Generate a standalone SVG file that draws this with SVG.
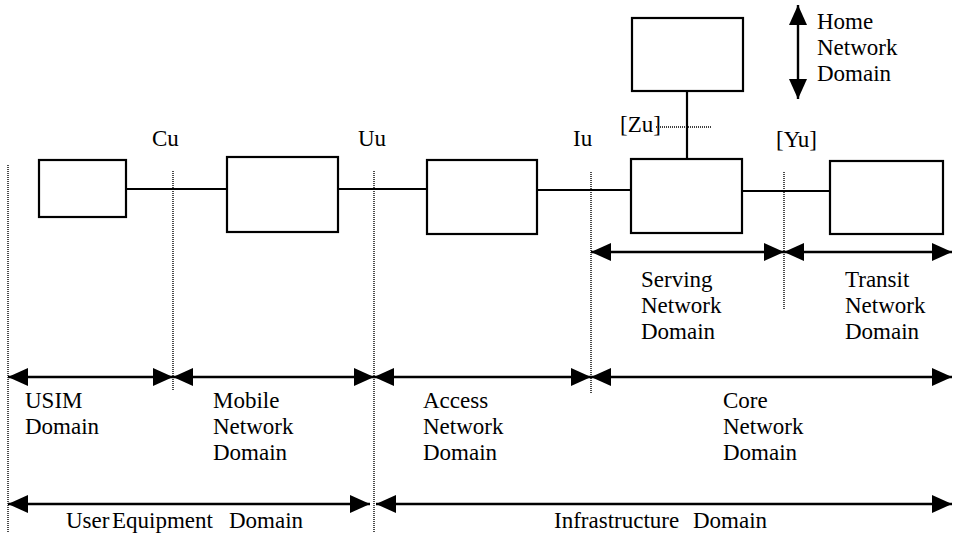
<svg xmlns="http://www.w3.org/2000/svg" width="956" height="539" viewBox="0 0 956 539">
  <style>
    .box { fill: #fff; stroke: #000; stroke-width: 2.2; }
    .link { stroke: #000; stroke-width: 2.2; fill: none; }
    .span { stroke: #000; stroke-width: 2.4; fill: none; marker-start: url(#head); marker-end: url(#head); }
    .dot { stroke: #000; stroke-width: 1.4; stroke-dasharray: 1 1; fill: none; }
    text { font-family: "Liberation Serif", "Times New Roman", serif; font-size: 23px; fill: #000; }
  </style>
  <defs>
    <marker id="head" markerUnits="userSpaceOnUse" markerWidth="20" markerHeight="18" refX="20" refY="9" orient="auto-start-reverse" viewBox="0 0 20 18">
      <path d="M0,0 L20,9 L0,18 z" fill="#000"/>
    </marker>
  </defs>

  <rect width="956" height="539" fill="#fff"/>

  <!-- reference points (dotted boundaries) -->
  <g id="boundaries">
    <line class="dot" x1="8" y1="165" x2="8" y2="532"/>
    <line class="dot" x1="173" y1="171" x2="173" y2="390"/>
    <line class="dot" x1="374" y1="171" x2="374" y2="532"/>
    <line class="dot" x1="591" y1="172" x2="591" y2="394"/>
    <line class="dot" x1="784" y1="172" x2="784" y2="310"/>
    <line class="dot" x1="656" y1="127" x2="712" y2="127"/>
  </g>

  <!-- connectors between nodes -->
  <g id="connectors">
    <line class="link" x1="126" y1="189" x2="227" y2="189"/>
    <line class="link" x1="338" y1="189" x2="427" y2="189"/>
    <line class="link" x1="537" y1="190" x2="631" y2="190"/>
    <line class="link" x1="742" y1="191" x2="830" y2="191"/>
    <line class="link" x1="687" y1="91" x2="687" y2="159"/>
  </g>

  <!-- nodes -->
  <g id="usim"><rect class="box" x="39" y="160" width="87" height="57"/></g>
  <g id="mobile-equipment"><rect class="box" x="227" y="157" width="111" height="75"/></g>
  <g id="access-network"><rect class="box" x="427" y="160" width="110" height="74"/></g>
  <g id="serving-network"><rect class="box" x="631" y="159" width="111" height="74"/></g>
  <g id="transit-network"><rect class="box" x="830" y="161" width="113" height="73"/></g>
  <g id="home-network"><rect class="box" x="632" y="18" width="111" height="73"/></g>

  <!-- reference point labels -->
  <g id="reference-labels">
    <text x="152" y="146">Cu</text>
    <text x="358" y="146">Uu</text>
    <text x="573" y="146">Iu</text>
    <text x="620" y="132">[Zu]</text>
    <text x="776" y="147">[Yu]</text>
  </g>

  <!-- domain extents -->
  <g id="domain-arrows">
    <line class="span" x1="798" y1="5" x2="798" y2="99"/>
    <line class="span" x1="591" y1="252" x2="784" y2="252"/>
    <line class="span" x1="784" y1="252" x2="952" y2="252"/>
    <line class="span" x1="8" y1="377" x2="173" y2="377"/>
    <line class="span" x1="173" y1="377" x2="374" y2="377"/>
    <line class="span" x1="374" y1="377" x2="591" y2="377"/>
    <line class="span" x1="591" y1="377" x2="952" y2="377"/>
    <line class="span" x1="8" y1="504" x2="370" y2="504"/>
    <line class="span" x1="376" y1="504" x2="952" y2="504"/>
  </g>

  <!-- domain labels -->
  <g id="domain-labels">
    <text x="817" y="29">Home</text>
    <text x="817" y="55">Network</text>
    <text x="817" y="81">Domain</text>

    <text x="641" y="287">Serving</text>
    <text x="641" y="313">Network</text>
    <text x="641" y="339">Domain</text>

    <text x="845" y="287">Transit</text>
    <text x="845" y="313">Network</text>
    <text x="845" y="339">Domain</text>

    <text x="25" y="408">USIM</text>
    <text x="25" y="434">Domain</text>

    <text x="213" y="408">Mobile</text>
    <text x="213" y="434">Network</text>
    <text x="213" y="460">Domain</text>

    <text x="423" y="408">Access</text>
    <text x="423" y="434">Network</text>
    <text x="423" y="460">Domain</text>

    <text x="723" y="408">Core</text>
    <text x="723" y="434">Network</text>
    <text x="723" y="460">Domain</text>

    <text x="66" y="528">User<tspan x="112">Equipment</tspan><tspan x="229">Domain</tspan></text>
    <text x="554" y="528">Infrastructure<tspan x="693">Domain</tspan></text>
  </g>
</svg>
